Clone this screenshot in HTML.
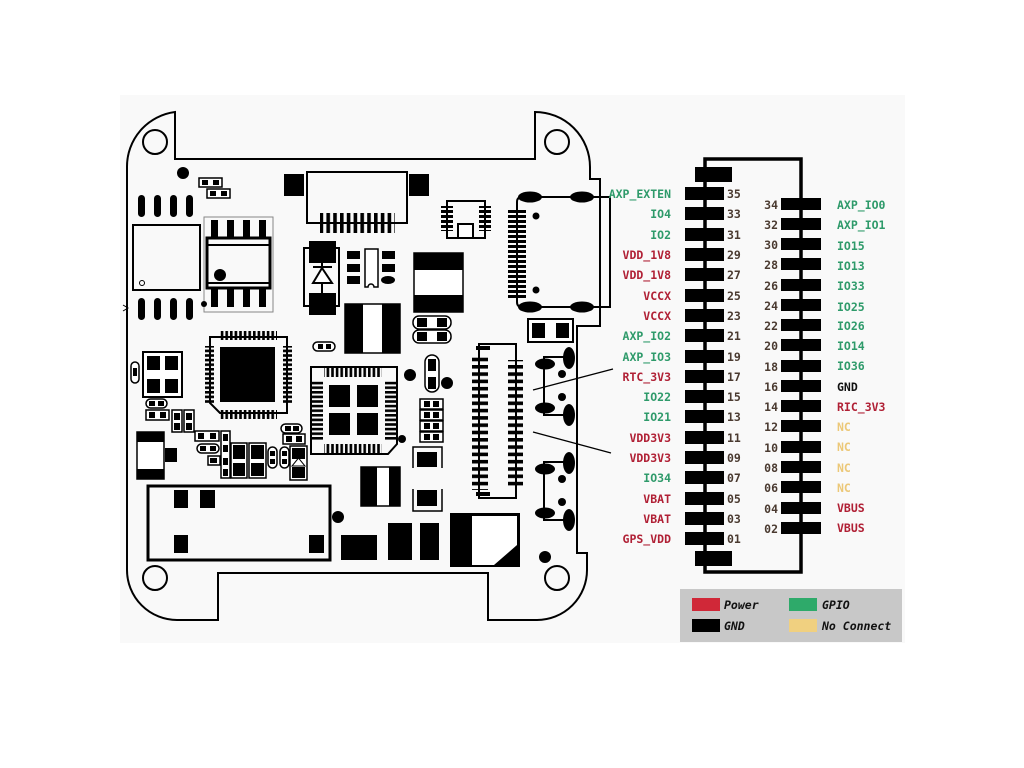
<!DOCTYPE html>
<html><head><meta charset="utf-8"><style>
html,body{margin:0;padding:0;background:#fff;}
svg{display:block;}
.t{font-family:"DejaVu Sans Mono","Liberation Mono",monospace;font-weight:bold;font-size:11.5px;}
.g{fill:#2e9a6a}.r{fill:#b02035}.y{fill:#ecc878}.n{fill:#4a3a30}.k{fill:#111}
</style></head><body>
<svg width="1024" height="768" viewBox="0 0 1024 768" xmlns="http://www.w3.org/2000/svg">
<defs>
<pattern id="pv" width="4.6" height="10" patternUnits="userSpaceOnUse"><rect x="0" y="0" width="2.6" height="10" fill="#000"/></pattern>
<pattern id="ph" width="10" height="4.6" patternUnits="userSpaceOnUse"><rect x="0" y="0" width="10" height="2.6" fill="#000"/></pattern>
<pattern id="ph7" width="20" height="7.3" patternUnits="userSpaceOnUse"><rect x="0" y="0" width="20" height="3.6" fill="#000"/></pattern>
<pattern id="pv7" width="6.8" height="30" patternUnits="userSpaceOnUse"><rect x="0" y="0" width="3.6" height="30" fill="#000"/></pattern>
<pattern id="ph5" width="20" height="5" patternUnits="userSpaceOnUse"><rect x="0" y="0" width="20" height="3" fill="#000"/></pattern>
</defs>
<rect x="120" y="95" width="785" height="548" fill="#f9f9f9"/>
<g fill="none" stroke="#000" stroke-width="2">
<path d="M175,112 L175,159 L535,159 L535,112 A55,55 0 0 1 590,167 L590,179 L600,179 L600,326 L577,326 L577,553 L587,553 L587,570 A50,50 0 0 1 537,620 L488,620 L488,573 L218,573 L218,620 L177,620 A50,50 0 0 1 127,570 L127,167 A55,55 0 0 1 175,112 Z"/>
<circle cx="155" cy="142" r="12"/><circle cx="557" cy="142" r="12"/>
<circle cx="155" cy="578" r="12"/><circle cx="557" cy="578" r="12"/>
</g>
<!-- left top components -->
<circle cx="183" cy="173" r="6"/>
<g fill="#fff" stroke="#000" stroke-width="1.5"><rect x="199" y="178" width="23" height="9"/><rect x="207" y="189" width="23" height="9"/></g>
<rect x="202" y="180" width="6" height="5"/><rect x="213" y="180" width="6" height="5"/>
<rect x="210" y="191" width="6" height="5"/><rect x="221" y="191" width="6" height="5"/>
<g><rect x="138" y="195" width="7" height="22" rx="3.5"/><rect x="154" y="195" width="7" height="22" rx="3.5"/><rect x="170" y="195" width="7" height="22" rx="3.5"/><rect x="186" y="195" width="7" height="22" rx="3.5"/>
<rect x="138" y="298" width="7" height="22" rx="3.5"/><rect x="154" y="298" width="7" height="22" rx="3.5"/><rect x="170" y="298" width="7" height="22" rx="3.5"/><rect x="186" y="298" width="7" height="22" rx="3.5"/></g>
<rect x="133" y="225" width="67" height="65" fill="none" stroke="#000" stroke-width="2"/>
<circle cx="142" cy="283" r="2.5" fill="none" stroke="#000"/>
<path d="M123,305 L128,308 L123,311" fill="none" stroke="#000"/>
<rect x="204" y="217" width="69" height="95" fill="none" stroke="#888" stroke-width="1"/>
<rect x="207" y="238" width="63" height="50" fill="none" stroke="#000" stroke-width="3"/>
<line x1="207" y1="245" x2="270" y2="245" stroke="#000" stroke-width="2"/><line x1="207" y1="283" x2="270" y2="283" stroke="#000" stroke-width="2"/>
<rect x="211" y="220" width="7" height="18"/><rect x="227" y="220" width="7" height="18"/><rect x="243" y="220" width="7" height="18"/><rect x="259" y="220" width="7" height="18"/>
<rect x="211" y="288" width="7" height="19"/><rect x="227" y="288" width="7" height="19"/><rect x="243" y="288" width="7" height="19"/><rect x="259" y="288" width="7" height="19"/>
<circle cx="220" cy="275" r="6"/><circle cx="204" cy="304" r="3"/>
<!-- FPC top -->
<rect x="307" y="172" width="100" height="51" fill="none" stroke="#000" stroke-width="2"/>
<rect x="284" y="174" width="20" height="22"/><rect x="409" y="174" width="20" height="22"/>
<rect x="320" y="213" width="75" height="20" fill="url(#pv7)"/>
<!-- small IC -->
<rect x="447" y="201" width="38" height="37" fill="none" stroke="#000" stroke-width="2"/>
<rect x="441" y="206" width="12" height="25" fill="url(#ph5)"/><rect x="479" y="206" width="12" height="25" fill="url(#ph5)"/>
<rect x="458" y="224" width="15" height="14" fill="#fff" stroke="#000" stroke-width="2"/>
<!-- diode -->
<rect x="304" y="248" width="35" height="58" fill="none" stroke="#000" stroke-width="2"/>
<rect x="309" y="241" width="27" height="22"/><rect x="309" y="293" width="27" height="22"/>
<line x1="322" y1="262" x2="322" y2="293" stroke="#000" stroke-width="2"/>
<line x1="313" y1="267" x2="332" y2="267" stroke="#000" stroke-width="2"/>
<path d="M322,268 L313,283 L332,283 Z" fill="#fff" stroke="#000" stroke-width="2"/>
<!-- sot -->
<rect x="347" y="251" width="13" height="8"/><rect x="347" y="264" width="13" height="8"/><rect x="347" y="276" width="13" height="8"/>
<rect x="382" y="251" width="13" height="8"/><rect x="382" y="264" width="13" height="8"/><ellipse cx="388" cy="280" rx="7" ry="4"/>
<path d="M365,249 L378,249 L378,287 L374,287 A3,3 0 0 0 368,287 L365,287 Z" fill="#fff" stroke="#000" stroke-width="1.5"/>
<!-- inductor -->
<rect x="414" y="253" width="49" height="59" fill="#fff" stroke="#000" stroke-width="1.5"/>
<rect x="414" y="253" width="49" height="17"/><rect x="414" y="295" width="49" height="17"/>
<rect x="345" y="304" width="55" height="49" fill="#fff" stroke="#000" stroke-width="1.5"/>
<rect x="345" y="304" width="18" height="49"/><rect x="382" y="304" width="18" height="49"/>
<g fill="#fff" stroke="#000" stroke-width="1.5"><rect x="413" y="316" width="38" height="13" rx="6"/><rect x="413" y="330" width="38" height="13" rx="6"/><rect x="313" y="342" width="22" height="9" rx="4.5"/></g>
<rect x="417" y="318" width="10" height="9"/><rect x="437" y="318" width="10" height="9"/><rect x="417" y="332" width="10" height="9"/><rect x="437" y="332" width="10" height="9"/>
<rect x="318" y="344" width="5" height="5"/><rect x="326" y="344" width="5" height="5"/>
<!-- QFP left -->
<path d="M210,337 L287,337 L287,413 L220,413 L210,403 Z" fill="none" stroke="#000" stroke-width="2"/>
<rect x="220" y="347" width="55" height="55"/>
<rect x="219" y="331" width="58" height="9" fill="url(#pv)"/><rect x="219" y="410" width="58" height="9" fill="url(#pv)"/>
<rect x="205" y="346" width="9" height="58" fill="url(#ph)"/><rect x="283" y="346" width="9" height="58" fill="url(#ph)"/>
<!-- QFN center -->
<path d="M311,367 L397,367 L397,444 L388,454 L311,454 Z" fill="none" stroke="#000" stroke-width="2"/>
<rect x="324" y="367" width="58" height="10" fill="url(#pv)"/><rect x="324" y="444" width="58" height="10" fill="url(#pv)"/>
<rect x="311" y="380" width="12" height="60" fill="url(#ph)"/><rect x="385" y="380" width="12" height="60" fill="url(#ph)"/>
<rect x="329" y="385" width="21" height="22"/><rect x="357" y="385" width="21" height="22"/><rect x="329" y="413" width="21" height="22"/><rect x="357" y="413" width="21" height="22"/>
<circle cx="410" cy="375" r="6"/><circle cx="447" cy="383" r="6"/><circle cx="402" cy="439" r="4"/>
<rect x="425" y="355" width="14" height="37" rx="7" fill="#fff" stroke="#000" stroke-width="1.5"/>
<rect x="428" y="359" width="8" height="12"/><rect x="428" y="377" width="8" height="12"/>
<g fill="#fff" stroke="#000" stroke-width="1.5"><rect x="420" y="399" width="23" height="10"/><rect x="420" y="410" width="23" height="10"/><rect x="420" y="421" width="23" height="10"/><rect x="420" y="432" width="23" height="10"/></g>
<g><rect x="424" y="401" width="6" height="6"/><rect x="433" y="401" width="6" height="6"/><rect x="424" y="412" width="6" height="6"/><rect x="433" y="412" width="6" height="6"/><rect x="424" y="423" width="6" height="6"/><rect x="433" y="423" width="6" height="6"/><rect x="424" y="434" width="6" height="6"/><rect x="433" y="434" width="6" height="6"/></g>
<path d="M413,468 L413,447 L442,447 L442,468" fill="none" stroke="#000" stroke-width="1.5"/><rect x="417" y="452" width="20" height="15"/>
<path d="M413,489 L413,511 L442,511 L442,489" fill="none" stroke="#000" stroke-width="1.5"/><rect x="417" y="490" width="20" height="16"/>
<rect x="361" y="467" width="39" height="39" fill="#fff" stroke="#000" stroke-width="1.5"/><rect x="361" y="467" width="16" height="39"/><rect x="389" y="467" width="11" height="39"/>
<!-- vertical FPC -->
<rect x="479" y="344" width="37" height="154" fill="none" stroke="#000" stroke-width="2"/>
<rect x="472" y="355" width="16" height="135" fill="url(#ph7)"/>
<rect x="508" y="360" width="15" height="126" fill="url(#ph7)"/>
<rect x="476" y="346" width="14" height="4"/><rect x="476" y="492" width="14" height="4"/>
<!-- USB -->
<path d="M600,197 L522,197 Q517,197 517,202 L517,302 Q517,307 522,307 L610,307 L610,197 L600,197" fill="none" stroke="#000" stroke-width="2"/>
<ellipse cx="530" cy="197" rx="12" ry="5.5"/><ellipse cx="582" cy="197" rx="12" ry="5.5"/><ellipse cx="530" cy="307" rx="12" ry="5.5"/><ellipse cx="582" cy="307" rx="12" ry="5.5"/>
<rect x="508" y="208" width="18" height="92" fill="url(#ph5)"/>
<circle cx="536" cy="216" r="3.5"/><circle cx="536" cy="290" r="3.5"/>
<rect x="528" y="319" width="45" height="23" fill="#fff" stroke="#000" stroke-width="2"/><rect x="532" y="323" width="13" height="15"/><rect x="556" y="323" width="13" height="15"/>
<!-- switches -->
<g id="sw"><path d="M572,357 L544,357 L544,415 L572,415" fill="none" stroke="#000" stroke-width="2"/>
<ellipse cx="545" cy="364" rx="10" ry="5.5"/><ellipse cx="545" cy="408" rx="10" ry="5.5"/>
<ellipse cx="569" cy="358" rx="6" ry="11"/><ellipse cx="569" cy="415" rx="6" ry="11"/>
<circle cx="562" cy="374" r="4"/><circle cx="562" cy="397" r="4"/></g>
<use href="#sw" y="105"/>
<line x1="533" y1="390" x2="613" y2="369" stroke="#000" stroke-width="1.3"/>
<line x1="533" y1="432" x2="611" y2="453" stroke="#000" stroke-width="1.3"/>
<circle cx="545" cy="557" r="6"/>
<!-- bottom parts -->
<rect x="450" y="513" width="70" height="54"/>
<path d="M472,516 L517,516 L517,545 L494,565 L472,565 Z" fill="#fff"/>
<rect x="420" y="523" width="19" height="37"/><rect x="388" y="523" width="24" height="37"/><rect x="341" y="535" width="36" height="25"/>
<circle cx="338" cy="517" r="6"/>
<rect x="148" y="486" width="182" height="74" fill="none" stroke="#000" stroke-width="3"/>
<rect x="174" y="490" width="14" height="18"/><rect x="200" y="490" width="15" height="18"/><rect x="174" y="535" width="14" height="18"/><rect x="309" y="535" width="15" height="18"/>
<!-- left lower cluster -->
<rect x="137" y="432" width="27" height="47" fill="#fff" stroke="#000" stroke-width="1.5"/><rect x="137" y="432" width="27" height="10"/><rect x="137" y="469" width="27" height="10"/>
<rect x="165" y="448" width="12" height="14"/>
<rect x="143" y="352" width="39" height="45" fill="#fff" stroke="#000" stroke-width="2"/>
<rect x="147" y="356" width="13" height="14"/><rect x="165" y="356" width="13" height="14"/><rect x="147" y="379" width="13" height="14"/><rect x="165" y="379" width="13" height="14"/>
<rect x="131" y="362" width="8" height="21" rx="4" fill="#fff" stroke="#000" stroke-width="1.5"/><rect x="133" y="368" width="4" height="8"/>
<g fill="#fff" stroke="#000" stroke-width="1.5">
<rect x="146" y="399" width="21" height="9" rx="4.5"/><rect x="146" y="410" width="23" height="10"/>
<rect x="172" y="410" width="10" height="22"/><rect x="184" y="410" width="10" height="22"/>
<rect x="195" y="431" width="24" height="10"/><rect x="197" y="444" width="22" height="9" rx="4.5"/>
<rect x="221" y="431" width="9" height="47"/><rect x="208" y="456" width="12" height="9"/>
<rect x="231" y="443" width="16" height="35"/><rect x="249" y="443" width="17" height="35"/>
<rect x="268" y="447" width="9" height="21" rx="4.5"/><rect x="280" y="447" width="9" height="21" rx="4.5"/>
<rect x="281" y="424" width="21" height="9" rx="4.5"/><rect x="283" y="434" width="22" height="10"/>
<rect x="290" y="446" width="17" height="34"/></g>
<g>
<rect x="149" y="401" width="6" height="5"/><rect x="158" y="401" width="6" height="5"/><rect x="149" y="412" width="6" height="6"/><rect x="160" y="412" width="6" height="6"/>
<rect x="174" y="413" width="6" height="7"/><rect x="174" y="423" width="6" height="7"/><rect x="186" y="413" width="6" height="7"/><rect x="186" y="423" width="6" height="7"/>
<rect x="198" y="433" width="6" height="6"/><rect x="210" y="433" width="6" height="6"/><rect x="200" y="446" width="6" height="5"/><rect x="210" y="446" width="6" height="5"/>
<rect x="223" y="434" width="5" height="7"/><rect x="223" y="445" width="5" height="7"/><rect x="223" y="458" width="5" height="7"/><rect x="223" y="469" width="5" height="7"/>
<rect x="210" y="458" width="7" height="5"/>
<rect x="233" y="445" width="12" height="14"/><rect x="233" y="463" width="12" height="13"/><rect x="251" y="445" width="13" height="14"/><rect x="251" y="463" width="13" height="13"/>
<rect x="270" y="451" width="5" height="5"/><rect x="270" y="459" width="5" height="5"/><rect x="282" y="451" width="5" height="5"/><rect x="282" y="459" width="5" height="5"/>
<rect x="285" y="426" width="6" height="5"/><rect x="293" y="426" width="6" height="5"/><rect x="286" y="436" width="6" height="6"/><rect x="296" y="436" width="6" height="6"/>
<rect x="292" y="448" width="13" height="11"/><rect x="292" y="467" width="13" height="11"/></g>
<path d="M298.5,458 L292,466 L305,466 Z" fill="#fff" stroke="#000"/>
<!-- connector -->
<rect x="705" y="159" width="96" height="413" fill="none" stroke="#000" stroke-width="3.5"/>
<rect x="695" y="167" width="37" height="15"/><rect x="695" y="551" width="37" height="15"/>
<g id="lp">
<rect x="685" y="187" width="39" height="13"/><rect x="685" y="207" width="39" height="13"/><rect x="685" y="228" width="39" height="13"/><rect x="685" y="248" width="39" height="13"/><rect x="685" y="268" width="39" height="13"/><rect x="685" y="289" width="39" height="13"/><rect x="685" y="309" width="39" height="13"/><rect x="685" y="329" width="39" height="13"/><rect x="685" y="350" width="39" height="13"/><rect x="685" y="370" width="39" height="13"/><rect x="685" y="390" width="39" height="13"/><rect x="685" y="410" width="39" height="13"/><rect x="685" y="431" width="39" height="13"/><rect x="685" y="451" width="39" height="13"/><rect x="685" y="471" width="39" height="13"/><rect x="685" y="492" width="39" height="13"/><rect x="685" y="512" width="39" height="13"/><rect x="685" y="532" width="39" height="13"/>
</g>
<g>
<rect x="781" y="198" width="40" height="12"/><rect x="781" y="218" width="40" height="12"/><rect x="781" y="238" width="40" height="12"/><rect x="781" y="258" width="40" height="12"/><rect x="781" y="279" width="40" height="12"/><rect x="781" y="299" width="40" height="12"/><rect x="781" y="319" width="40" height="12"/><rect x="781" y="339" width="40" height="12"/><rect x="781" y="360" width="40" height="12"/><rect x="781" y="380" width="40" height="12"/><rect x="781" y="400" width="40" height="12"/><rect x="781" y="420" width="40" height="12"/><rect x="781" y="441" width="40" height="12"/><rect x="781" y="461" width="40" height="12"/><rect x="781" y="481" width="40" height="12"/><rect x="781" y="502" width="40" height="12"/><rect x="781" y="522" width="40" height="12"/>
</g>
<g class="t" text-anchor="end">
<text x="671" y="198" class="g">AXP_EXTEN</text><text x="671" y="218" class="g">IO4</text><text x="671" y="239" class="g">IO2</text><text x="671" y="259" class="r">VDD_1V8</text><text x="671" y="279" class="r">VDD_1V8</text><text x="671" y="300" class="r">VCCX</text><text x="671" y="320" class="r">VCCX</text><text x="671" y="340" class="g">AXP_IO2</text><text x="671" y="361" class="g">AXP_IO3</text><text x="671" y="381" class="r">RTC_3V3</text><text x="671" y="401" class="g">IO22</text><text x="671" y="421" class="g">IO21</text><text x="671" y="442" class="r">VDD3V3</text><text x="671" y="462" class="r">VDD3V3</text><text x="671" y="482" class="g">IO34</text><text x="671" y="503" class="r">VBAT</text><text x="671" y="523" class="r">VBAT</text><text x="671" y="543" class="r">GPS_VDD</text>
<text x="778" y="209" class="n">34</text><text x="778" y="229" class="n">32</text><text x="778" y="249" class="n">30</text><text x="778" y="269" class="n">28</text><text x="778" y="290" class="n">26</text><text x="778" y="310" class="n">24</text><text x="778" y="330" class="n">22</text><text x="778" y="350" class="n">20</text><text x="778" y="371" class="n">18</text><text x="778" y="391" class="n">16</text><text x="778" y="411" class="n">14</text><text x="778" y="431" class="n">12</text><text x="778" y="452" class="n">10</text><text x="778" y="472" class="n">08</text><text x="778" y="492" class="n">06</text><text x="778" y="513" class="n">04</text><text x="778" y="533" class="n">02</text>
</g>
<g class="t n">
<text x="727" y="198">35</text><text x="727" y="218">33</text><text x="727" y="239">31</text><text x="727" y="259">29</text><text x="727" y="279">27</text><text x="727" y="300">25</text><text x="727" y="320">23</text><text x="727" y="340">21</text><text x="727" y="361">19</text><text x="727" y="381">17</text><text x="727" y="401">15</text><text x="727" y="421">13</text><text x="727" y="442">11</text><text x="727" y="462">09</text><text x="727" y="482">07</text><text x="727" y="503">05</text><text x="727" y="523">03</text><text x="727" y="543">01</text>
</g>
<g class="t">
<text x="837" y="209" class="g">AXP_IO0</text><text x="837" y="229" class="g">AXP_IO1</text><text x="837" y="250" class="g">IO15</text><text x="837" y="270" class="g">IO13</text><text x="837" y="290" class="g">IO33</text><text x="837" y="311" class="g">IO25</text><text x="837" y="330" class="g">IO26</text><text x="837" y="350" class="g">IO14</text><text x="837" y="370" class="g">IO36</text><text x="837" y="391" class="k">GND</text><text x="837" y="411" class="r">RIC_3V3</text><text x="837" y="431" class="y">NC</text><text x="837" y="451" class="y">NC</text><text x="837" y="472" class="y">NC</text><text x="837" y="492" class="y">NC</text><text x="837" y="512" class="r">VBUS</text><text x="837" y="532" class="r">VBUS</text>
</g>
<!-- legend -->
<rect x="680" y="589" width="222" height="53" fill="#c8c8c8"/>
<rect x="692" y="598" width="28" height="13" fill="#d02838"/><rect x="789" y="598" width="28" height="13" fill="#2eaa6a"/>
<rect x="692" y="619" width="28" height="13" fill="#000"/><rect x="789" y="619" width="28" height="13" fill="#f0d080"/>
<g class="t k" font-style="italic"><text x="724" y="609">Power</text><text x="822" y="609">GPIO</text><text x="724" y="630">GND</text><text x="822" y="630">No Connect</text></g>
</svg>
</body></html>
